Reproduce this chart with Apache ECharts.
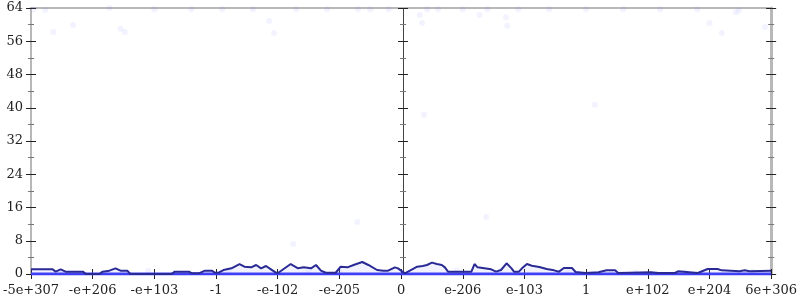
<!DOCTYPE html>
<html><head><meta charset="utf-8">
<script src="https://cdn.jsdelivr.net/npm/echarts@6/dist/echarts.min.js"></script>
<style>html,body{margin:0;padding:0;background:#fff}#c{width:800px;height:300px}</style>
</head><body><div id="c"></div>
<script>
// x tick labels at positions 0..12
const xTickLabels = ['-5e+307','-e+206','-e+103','-1','-e-102','-e-205','0','e-206','e-103','1','e+102','e+204','6e+306'];
// main line: x positions (axis units) and counts
const lineX = [0,0.35,0.40,0.48,0.56,0.84,0.89,1.11,1.16,1.27,1.37,1.45,1.56,1.61,2.28,2.33,2.56,2.61,2.72,2.82,2.93,2.98,3.04,3.12,3.25,3.38,3.46,3.57,3.65,3.73,3.81,3.89,3.97,4.01,4.21,4.33,4.42,4.54,4.62,4.70,4.78,4.94,5.02,5.13,5.23,5.37,5.47,5.61,5.71,5.79,5.90,5.95,6.06,6.18,6.26,6.35,6.42,6.50,6.58,6.66,6.71,6.76,7.14,7.19,7.24,7.35,7.46,7.54,7.62,7.71,7.79,7.83,7.91,7.96,8.04,8.12,8.24,8.36,8.48,8.56,8.64,8.77,8.83,8.99,9.20,9.33,9.47,9.52,10.05,10.17,10.44,10.49,10.81,10.97,11.13,11.20,11.49,11.57,11.65,12];
const lineY = [1.12,1.12,0.56,1.12,0.56,0.56,0,0,0.56,0.8,1.36,0.8,0.8,0,0,0.56,0.56,0.16,0.16,0.8,0.8,0.32,0.32,0.96,1.36,2.4,1.76,1.6,2.17,1.36,1.92,1.12,0.32,0.3,2.4,1.36,1.6,1.36,2.17,0.8,0.3,0.3,1.76,1.6,2.17,2.89,2.17,0.96,0.8,0.8,1.6,1.36,0.16,1.12,1.76,1.92,2.17,2.73,2.4,2.17,1.6,0.56,0.56,2.4,1.6,1.36,1.12,0.56,0.96,2.57,1.36,0.56,0.56,1.36,2.4,2.0,1.68,1.2,0.88,0.56,1.44,1.44,0.48,0.24,0.4,0.88,0.88,0.24,0.4,0.24,0.24,0.64,0.24,1.2,1.2,0.88,0.64,0.88,0.64,0.8];
// dense zero band
const zeroX = [0, 12];
const zeroY = [0, 0];
// faint scattered points
const dotX = [0.04,0.23,0.36,0.68,1.27,1.45,1.52,2.0,2.6,3.1,3.6,3.86,3.94,4.3,4.8,5.3,5.5,5.8,6.3,6.34,6.37,6.42,6.6,7.0,7.27,7.4,7.7,7.72,7.9,8.4,9.0,9.14,9.6,10.2,10.8,11.0,11.2,11.43,11.48,11.9,
  5.29,7.38,4.25,0.5,1.9,3.2,4.5,5.0,6.9,7.6,8.7,9.8,10.6,11.7];
const dotY = [63.7,63.5,58.2,59.9,64,59,58.2,63.7,63.7,63.7,63.7,60.9,58,63.7,63.7,63.7,63.7,63.7,62.3,60.4,38.3,63.7,63.7,63.7,62.3,63.7,61.8,59.7,63.7,63.7,63.7,40.7,63.7,63.7,63.7,60.4,58,63,63.5,59.4,
  12.5,13.7,7.2,0.6,0.8,0.9,1.0,0.7,0.9,0.6,0.5,0.4,0.5,0.6];

const FONT = 'DejaVu Serif';
const grid = {left:28, right:26, top:8, bottom:26};
function yAx(opts){
  return Object.assign({
    type:'value', min:0, max:64, interval:8, position:'left', offset:0,
    axisLine:{show:false}, splitLine:{show:false},
    axisLabel:{show:false},
    axisTick:{show:true, length:5, lineStyle:{color:'#222', width:1}},
    minorTick:{show:true, splitNumber:2, length:3, lineStyle:{color:'#777', width:1}},
    minorSplitLine:{show:false}
  }, opts);
}
const yAxes = [
  yAx({axisLine:{show:true, lineStyle:{color:'#b8b8b8', width:2}},
       axisLabel:{show:true, margin:8, color:'#222', fontFamily:FONT, fontSize:13}}),
  yAx({axisTick:{show:true, inside:true, length:5, lineStyle:{color:'#222'}},
       minorTick:{show:true, splitNumber:2, length:3, lineStyle:{color:'#777'}}}),
  yAx({offset:-372, axisLine:{show:true, lineStyle:{color:'#444', width:1}}}),
  yAx({offset:-372, axisTick:{show:true, inside:true, length:5, lineStyle:{color:'#222'}},
       minorTick:{show:true, splitNumber:2, length:3, lineStyle:{color:'#777'}}}),
  yAx({position:'right', axisLine:{show:true, lineStyle:{color:'#b8b8b8', width:3}}}),
  yAx({position:'right', axisTick:{show:true, inside:true, length:5, lineStyle:{color:'#222'}},
       minorTick:{show:true, splitNumber:2, length:3, lineStyle:{color:'#777'}}})
];
function xAx(opts){
  return Object.assign({
    type:'value', min:0, max:12, interval:1, position:'bottom',
    axisLine:{show:false}, splitLine:{show:false}, axisLabel:{show:false},
    axisTick:{show:true, length:5, lineStyle:{color:'#222'}}
  }, opts);
}
const xAxes = [
  xAx({axisLine:{show:true, onZero:false, lineStyle:{color:'#b8b8b8', width:2}},
       axisLabel:{show:true, margin:10, color:'#222', fontFamily:FONT, fontSize:13,
         formatter:(v)=>xTickLabels[Math.round(v)]}}),
  xAx({axisTick:{show:true, inside:true, length:5, lineStyle:{color:'#222'}}}),
  xAx({position:'top', axisLine:{show:true, onZero:false, lineStyle:{color:'#b8b8b8', width:2}}, axisTick:{show:false}})
];
const chart = echarts.init(document.getElementById('c'), null, {renderer:'canvas'});
chart.setOption({
  animation:false,
  grid: grid,
  xAxis: xAxes,
  yAxis: yAxes,
  series: [
    {type:'scatter', xAxisIndex:0, yAxisIndex:0, symbolSize:6,
     itemStyle:{color:'rgba(110,110,255,0.1)'},
     data: dotX.map((x,i)=>[x, dotY[i]]), z:1},
    {type:'line', xAxisIndex:0, yAxisIndex:0, showSymbol:false,
     lineStyle:{color:'#3b3bf5', width:3},
     data: zeroX.map((x,i)=>[x, zeroY[i]]), z:3},
    {type:'line', xAxisIndex:0, yAxisIndex:0, showSymbol:false,
     lineStyle:{color:'#2a2a95', width:2},
     areaStyle:{color:'rgba(130,130,255,0.15)'},
     data: lineX.map((x,i)=>[x, lineY[i]]), z:4}
  ]
});
</script></body></html>
